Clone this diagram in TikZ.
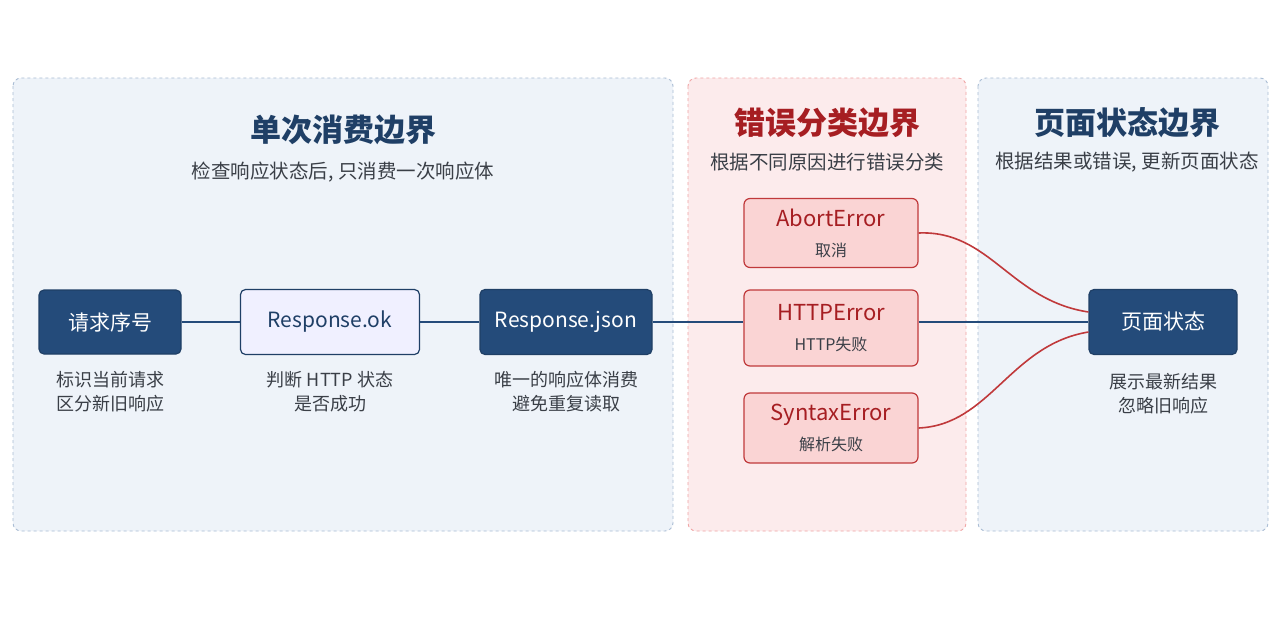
\documentclass[tikz,border=0pt]{standalone}
\usepackage{fontspec}
\setmainfont{Noto Sans CJK SC}
\begin{document}
\definecolor{navy}{HTML}{244B7A}
\definecolor{navytxt}{HTML}{1F3F66}
\definecolor{pblue}{HTML}{EEF3F9}
\definecolor{bblue}{HTML}{A9BCD4}
\definecolor{pred}{HTML}{FCEBEC}
\definecolor{bred}{HTML}{F0A4A4}
\definecolor{dred}{HTML}{A61E22}
\definecolor{nred}{HTML}{FAD4D4}
\definecolor{rline}{HTML}{C0393B}
\definecolor{gtxt}{HTML}{3A3F47}
\begin{tikzpicture}[x=1pt,y=-1pt,
 panel/.style={draw=#1,dashed,rounded corners=8pt,line width=0.9pt},
 dk/.style={draw=navytxt,fill=navy,rounded corners=5pt,line width=1.2pt,text=white,font=\fontsize{21}{24}\selectfont},
 lt/.style={draw=navytxt,fill=blue!6,rounded corners=5pt,line width=1.2pt,text=navytxt,font=\fontsize{21}{24}\selectfont},
 er/.style={draw=rline,fill=nred,rounded corners=6pt,line width=1.2pt,minimum width=174pt,align=center,font=\fontsize{22}{30}\selectfont},
 captxt/.style={text=gtxt,font=\fontsize{18}{24}\selectfont,align=center},
 ttl/.style={font=\fontsize{31}{36}\selectfont\bfseries},
 sub/.style={text=gtxt,font=\fontsize{19.5}{22}\selectfont},
 bl/.style={draw=navy,line width=2pt},
 rl/.style={draw=rline,line width=1.6pt}]
\useasboundingbox (0,0) rectangle (1280,640);
\fill[white] (0,0) rectangle (1280,640);
\draw[panel=bblue,fill=pblue] (13,78) rectangle (673,531);
\draw[panel=bred,fill=pred] (688,78) rectangle (966,531);
\draw[panel=bblue,fill=pblue] (978,78) rectangle (1268,531);
\node[ttl,text=navytxt] (t1) at (343,130) {单次消费边界};
\node[sub] (s1) at (343,172) {检查响应状态后, 只消费一次响应体};
\node[ttl,text=dred] (t2) at (827,123) {错误分类边界};
\node[sub] (s2) at (827,162) {根据不同原因进行错误分类};
\node[ttl,text=navytxt] (t3) at (1127,123) {页面状态边界};
\node[sub] (s3) at (1127,162) {根据结果或错误, 更新页面状态};
\node[dk,minimum width=142pt,minimum height=64pt] (a) at (110,322) {请求序号};
\node[lt,minimum width=179pt,minimum height=65pt] (b) at (330,322) {Response.ok};
\node[dk,minimum width=172pt,minimum height=65pt] (c) at (566,322) {Response.json};
\node[er,minimum height=69pt] (e1) at (831,233) {\textcolor{dred}{AbortError}\\{\fontsize{16}{18}\selectfont\color{gtxt}取消}};
\node[er,minimum height=76pt] (e2) at (831,328) {\textcolor{dred}{HTTPError}\\{\fontsize{16}{18}\selectfont\color{gtxt}HTTP失败}};
\node[er,minimum height=70pt] (e3) at (831,428) {\textcolor{dred}{SyntaxError}\\{\fontsize{16}{18}\selectfont\color{gtxt}解析失败}};
\node[dk,minimum width=148pt,minimum height=65pt] (p) at (1163,322) {页面状态};
\node[captxt] (ca) at (110,392) {标识当前请求\\区分新旧响应};
\node[captxt] (cb) at (330,392) {判断 HTTP 状态\\是否成功};
\node[captxt] (cc) at (566,392) {唯一的响应体消费\\避免重复读取};
\node[captxt] (cp) at (1163,394) {展示最新结果\\忽略旧响应};
\draw[bl] (a) -- (b); \draw[bl] (b) -- (c);
\draw[bl] (c.east) -- (c.east -| e2.west);
\draw[bl] (e2.east |- p.west) -- (p.west);
\draw[rl] (e1.east) .. controls (990,230) and (1010,300) .. ([yshift=10pt]p.west);
\draw[rl] (e3.east) .. controls (990,425) and (1010,345) .. ([yshift=-10pt]p.west);
\end{tikzpicture}
\end{document}
